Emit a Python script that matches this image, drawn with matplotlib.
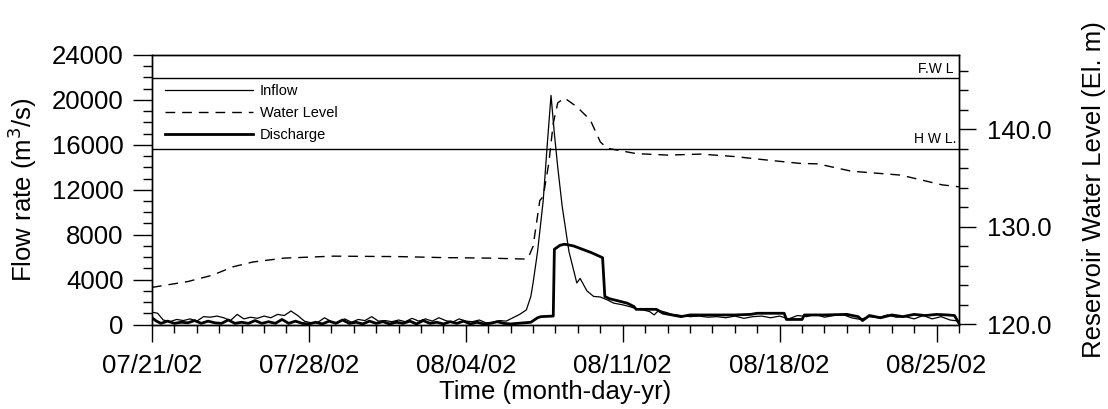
import numpy as np
import pandas as pd
import matplotlib
matplotlib.use("Agg")
import matplotlib.pyplot as plt
import matplotlib.dates as mdates
from matplotlib.ticker import MultipleLocator, FormatStrFormatter, FixedLocator

plt.rcParams["font.family"] = ["Liberation Sans", "DejaVu Sans"]

# Datos (días desde 07/21/02)
inflow_day = [0.0, 0.25, 0.5, 0.8, 1.1, 1.4, 1.7, 2.0, 2.3, 2.6, 2.9, 3.2, 3.5, 3.8, 4.1, 4.4,
              4.7, 5.0, 5.3, 5.6, 5.9, 6.2, 6.5, 6.8, 7.1, 7.4, 7.7, 8.0, 8.3, 8.6, 8.9, 9.2,
              9.5, 9.8, 10.1, 10.4, 10.7, 11.0, 11.3, 11.6, 11.9, 12.2, 12.5, 12.8, 13.1, 13.4,
              13.7, 14.0, 14.3, 14.6, 14.9, 15.2, 15.5, 15.8, 16.1, 16.4, 16.7, 16.9, 17.0,
              17.2, 17.45, 17.65, 17.8, 17.95, 18.1, 18.3, 18.6, 18.95, 19.1, 19.4, 19.7, 20.0,
              20.3, 20.6, 21.0, 21.3, 21.6, 21.9, 22.2, 22.4, 22.6, 22.9, 23.2, 23.6, 24.0,
              24.4, 24.8, 25.2, 25.6, 26.0, 26.4, 26.8, 27.2, 27.6, 28.0, 28.4, 28.8, 29.2,
              29.6, 30.0, 30.4, 30.8, 31.2, 31.6, 32.0, 32.4, 32.8, 33.2, 33.6, 34.0, 34.4,
              34.8, 35.2, 35.6, 36.0]
inflow_q = [1100, 1000, 400, 250, 450, 350, 500, 300, 700, 650, 750, 600, 350, 900, 500, 650,
            550, 750, 600, 900, 800, 1200, 800, 300, 150, 200, 600, 250, 150, 500, 200, 450,
            350, 700, 300, 350, 250, 400, 250, 550, 300, 500, 300, 600, 350, 200,
            500, 300, 250, 400, 150, 200, 350, 300, 600, 900, 1300, 2500, 3700,
            6500, 11000, 16500, 20400, 17000, 14000, 10500, 6500, 3700, 4100, 3000, 2500, 2450,
            2200, 1900, 1750, 1600, 1400, 1300, 1150, 850, 1250, 1100, 900, 800, 700,
            750, 650, 700, 600, 750, 550, 700, 750, 600, 750, 500, 800, 700,
            900, 650, 800, 900, 600, 450, 700, 600, 850, 650, 700, 500, 800,
            500, 700, 400, 300]

discharge_day = [0.0, 0.2, 0.4, 0.7, 1.0, 1.3, 1.6, 1.9, 2.2, 2.5, 2.8, 3.1, 3.4, 3.7, 4.0, 4.3,
                 4.6, 4.9, 5.2, 5.5, 5.8, 6.1, 6.4, 6.7, 7.0, 7.3, 7.6, 7.9, 8.2, 8.5, 8.8, 9.1,
                 9.4, 9.7, 10.0, 10.3, 10.6, 10.9, 11.2, 11.5, 11.8, 12.1, 12.4, 12.7, 13.0,
                 13.3, 13.6, 13.9, 14.2, 14.5, 14.8, 15.1, 15.4, 15.7, 16.0, 16.3, 16.6, 16.9,
                 17.2, 17.35, 17.9, 17.95, 18.2, 18.4, 18.8, 19.2, 19.6, 20.1, 20.2, 20.4, 20.8,
                 21.2, 21.5, 21.6, 22.5, 22.8, 23.6, 24.0, 25.0, 26.0, 26.7, 27.0, 28.2, 28.3,
                 29.0, 29.1, 30.0, 31.0, 31.5, 31.7, 32.0, 32.5, 33.0, 33.5, 34.0, 34.5, 35.0,
                 35.5, 35.8, 36.0]
discharge_q = [600, 300, 100, 300, 100, 200, 150, 350, 100, 300, 150, 100, 400, 100, 200, 100,
               350, 100, 250, 100, 450, 100, 300, 100, 50, 200, 50, 300, 100, 400, 100, 200,
               50, 300, 100, 250, 50, 200, 100, 300, 50, 350, 100, 200, 50,
               250, 100, 300, 50, 200, 50, 100, 250, 100, 50, 100, 150, 200,
               600, 700, 750, 6700, 7050, 7150, 7000, 6700, 6400, 5950, 2500, 2300, 2100,
               1900, 1600, 1350, 1350, 1000, 700, 850, 850, 850, 900, 1000, 1000, 450,
               450, 850, 850, 900, 700, 350, 800, 600, 850, 700, 900, 800, 900,
               850, 800, 100]

level_day = [0, 0.8, 1.6, 2.7, 3.6, 4.5, 5.9, 8.1, 11.1, 13.0, 15.0, 16.7, 16.85, 17.0, 17.3,
             17.45, 17.7, 17.9, 18.1, 18.4, 18.95, 19.55, 20.0, 20.3, 20.9, 21.6, 23.0, 24.5,
             26.0, 27.4, 28.9, 29.7, 31.2, 33.4, 35.25, 36.0]
level_el = [123.8, 124.1, 124.4, 125.05, 125.9, 126.4, 126.8, 127.0, 126.95, 126.85, 126.8,
            126.7, 127.2, 128.0, 132.7, 133.1, 136.5, 140.6, 142.7, 143.2, 142.3, 140.95,
            138.7, 138.05, 137.8, 137.5, 137.35, 137.45, 137.2, 136.85, 136.5, 136.45, 135.7,
            135.3, 134.3, 134.1]

tick_dates = ["2002-07-21", "2002-07-28", "2002-08-04", "2002-08-11", "2002-08-18", "2002-08-25"]

fwl = 145.2
hwl = 138.0

base = pd.Timestamp("2002-07-21")
def to_dates(days):
    return base + pd.to_timedelta(np.array(days), unit="D")

fig = plt.figure(figsize=(11.08, 4.09), dpi=100)
ax = fig.add_axes([152 / 1108, 1 - 324.5 / 409, (959 - 152) / 1108, (324.5 - 55) / 409])
ax2 = ax.twinx()

l1, = ax.plot(to_dates(inflow_day), inflow_q, color="black", lw=0.9)
l3, = ax.plot(to_dates(discharge_day), discharge_q, color="black", lw=2.0)
l2, = ax2.plot(to_dates(level_day), level_el, color="black", lw=1.0, dashes=(7, 5))
ax2.axhline(fwl, color="black", lw=1.0)
ax2.axhline(hwl, color="black", lw=1.0)

ax.set_xlim(base, base + pd.Timedelta(days=36))
ax.set_ylim(0, 24000)
ax2.set_ylim(120, 147.6)

ax.xaxis.set_major_locator(FixedLocator(mdates.date2num(pd.to_datetime(tick_dates))))
ax.xaxis.set_major_formatter(mdates.DateFormatter("%m/%d/%y"))
ax.xaxis.set_minor_locator(mdates.DayLocator())
ax.yaxis.set_major_locator(MultipleLocator(4000))
ax.yaxis.set_minor_locator(MultipleLocator(1000))
ax2.yaxis.set_major_locator(MultipleLocator(10))
ax2.yaxis.set_minor_locator(MultipleLocator(2))
ax2.yaxis.set_major_formatter(FormatStrFormatter("%.1f"))

ax.tick_params(axis="y", which="major", direction="out", length=13.5, width=1, labelsize=18.5, pad=7)
ax.tick_params(axis="y", which="minor", direction="out", length=6.5, width=1)
ax.tick_params(axis="x", which="major", direction="out", length=12, width=1, labelsize=18.5, pad=9)
ax.tick_params(axis="x", which="minor", direction="out", length=6, width=1)
ax2.tick_params(axis="y", which="major", direction="out", length=12, width=1, labelsize=18.5, pad=8)
ax2.tick_params(axis="y", which="minor", direction="out", length=6.5, width=1)

ax.set_xlabel("Time (month-day-yr)", fontsize=18.5, labelpad=2)
ax.set_ylabel("Flow rate (m$^3$/s)", fontsize=18.5, labelpad=9)
ax2.set_ylabel("Reservoir Water Level (El. m)", fontsize=18.5, labelpad=22)

ax2.text(0.993, fwl + 0.3, "F.W L", transform=ax2.get_yaxis_transform(), ha="right",
         va="bottom", fontsize=10)
ax2.text(0.997, hwl + 0.3, "H W L.", transform=ax2.get_yaxis_transform(), ha="right",
         va="bottom", fontsize=10)

ax.legend([l1, l2, l3], ["Inflow", "Water Level", "Discharge"], loc="upper left",
          bbox_to_anchor=(0.0, 0.94), frameon=False, fontsize=10.5, handlelength=6.0,
          labelspacing=0.55, handletextpad=0.5, borderaxespad=0.5)

for a in (ax, ax2):
    for s in a.spines.values():
        s.set_linewidth(1.0)

fig.savefig("out.png", dpi=100)
